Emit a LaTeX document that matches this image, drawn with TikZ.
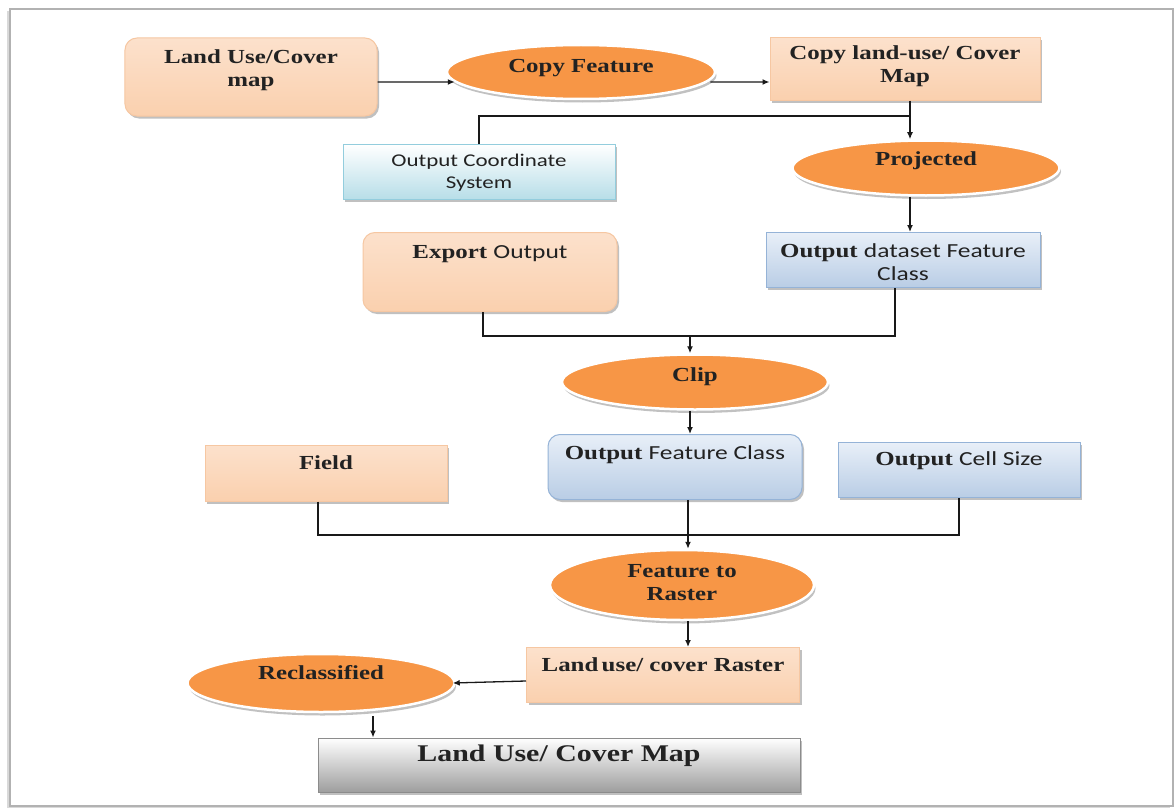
\documentclass[tikz,border=0pt]{standalone}
\usepackage{fontspec}
\setmainfont{Liberation Serif}[FakeStretch=1.25]
\setsansfont{Carlito}[FakeStretch=1.28]
\usetikzlibrary{shapes.geometric,shadows,arrows.meta}

\definecolor{orfill}{HTML}{F79646}
\definecolor{peachT}{HTML}{FCE1CC}
\definecolor{peachM}{HTML}{FEF3EA}
\definecolor{peachB}{HTML}{FAD0AE}
\definecolor{peachE}{HTML}{F6C7A2}
\definecolor{cyanB}{HTML}{B7DEE8}
\definecolor{cyanE}{HTML}{93CDDD}
\definecolor{bluT}{HTML}{E8EFF8}
\definecolor{bluB}{HTML}{B9CDE5}
\definecolor{bluE}{HTML}{95B3D7}
\definecolor{grayB}{HTML}{9E9E9E}
\definecolor{ink}{HTML}{222222}

\tikzset{
  boxshadow/.style={drop shadow={shadow xshift=2bp, shadow yshift=-2.5bp, opacity=0.35, fill=black!70}},
  pbox/.style={draw=peachE, line width=1bp, top color=peachT, middle color=peachM,
               bottom color=peachB, inner sep=0pt, boxshadow},
  cbox/.style={draw=cyanE, line width=1bp, top color=white, bottom color=cyanB,
               inner sep=0pt, boxshadow},
  bbox/.style={draw=bluE, line width=1bp, top color=bluT, bottom color=bluB,
               inner sep=0pt, boxshadow},
  gbox/.style={draw=black!45, line width=1bp, top color=white, bottom color=grayB,
               inner sep=0pt, boxshadow},
  oval/.style={ellipse, fill=orfill, draw=white, line width=2.5bp, inner sep=0pt,
               drop shadow={shadow xshift=1.5bp, shadow yshift=-3.5bp, opacity=0.4, fill=black!60}},
  serif/.style={font=\bfseries\fontsize{20}{23}\selectfont, text=ink, align=center, inner sep=0pt},
  sans/.style={font=\sffamily\fontsize{18}{22}\selectfont, text=ink, align=center, inner sep=0pt},
  conn/.style={draw=black!90, line width=1.3bp},
  arr/.style={conn, -{Latex[length=7bp,width=6bp]}},
}

\begin{document}
\begin{tikzpicture}[x=1bp,y=-1bp]
\useasboundingbox (0,0) rectangle (1176,809);

% page frame
\path[fill=white, draw=black!30, line width=1.2bp,
      drop shadow={shadow xshift=-3bp, shadow yshift=-2bp, opacity=0.3}]
  (10,9) rectangle (1173,806);

% ---- boxes and ovals ----
\node[pbox, rounded corners=12bp, minimum width=252bp, minimum height=78bp] (lu) at (251,77) {};
\node[serif] (lut) at (251,70) {Land Use/Cover\\map};

\node[oval, minimum width=268bp, minimum height=54bp] (cf) at (581,72) {};
\node[serif] (cft) at (581,68) {Copy Feature};

\node[pbox, minimum width=270bp, minimum height=62bp] (cl) at (905,69) {};
\node[serif] (clt) at (905,66) {Copy land-use/ Cover\\Map};

\node[cbox, minimum width=272bp, minimum height=55bp] (ocs) at (479,172) {};
\node[sans] (ocst) at (479,173) {Output Coordinate\\System};

\node[oval, minimum width=267bp, minimum height=55bp] (proj) at (926,168) {};
\node[serif] (projt) at (926,161) {Projected};

\node[bbox, minimum width=274bp, minimum height=55bp] (odfc) at (903,260) {};
\node[serif] (odfct) at (903,262) {Output {\sffamily\mdseries dataset Feature}\\{\sffamily\mdseries Class}};

\node[pbox, rounded corners=12bp, minimum width=254bp, minimum height=79bp] (eo) at (490,272) {};
\node[serif] (eot) at (490,254) {Export {\sffamily\mdseries Output}};

\node[oval, minimum width=266bp, minimum height=55bp] (clip) at (695,382) {};
\node[serif] (clipt) at (695,377) {Clip};

\node[bbox, rounded corners=12bp, minimum width=254bp, minimum height=65bp] (ofc) at (675,467) {};
\node[serif] (ofct) at (675,455) {Output {\sffamily\mdseries Feature Class}};

\node[pbox, minimum width=242bp, minimum height=56bp] (field) at (326,473) {};
\node[serif] (fieldt) at (326,463) {Field};

\node[bbox, minimum width=242bp, minimum height=55bp] (ocz) at (959,470) {};
\node[serif] (oczt) at (959,461) {Output {\sffamily\mdseries Cell Size}};

\node[oval, minimum width=264bp, minimum height=70bp] (ftr) at (682,585) {};
\node[serif] (ftrt) at (682,583) {Feature to\\Raster};

\node[pbox, minimum width=273bp, minimum height=55bp] (lucr) at (663,675) {};
\node[serif] (lucrt) at (663,665) {Land\,use/ cover Raster};

\node[oval, minimum width=267bp, minimum height=58bp] (recl) at (321,683) {};
\node[serif] (reclt) at (321,673) {Reclassified};

\node[gbox, minimum width=482bp, minimum height=54bp] (final) at (559,765) {};
\node[serif, font=\bfseries\fontsize{24}{28}\selectfont] (finalt) at (559,756) {Land Use/ Cover Map};

% ---- junction points ----
\coordinate (j1) at (910,116);
\coordinate (j2) at (690,336);
\coordinate (j3) at (688,535);

% ---- connectors ----
\draw[arr] ([yshift=-5bp]lu.east) -- ([xshift=9bp,yshift=-10bp]cf.west);
\draw[arr] ([xshift=-6bp,yshift=-10bp]cf.east) -- ([yshift=-13bp]cl.west);

\draw[arr] ([xshift=5bp]cl.south) -- ([xshift=5bp]cl.south |- proj.north);
\draw[conn] (ocs.north) |- (j1);

\draw[arr] ([xshift=-16bp]proj.south) -- ([xshift=-16bp]proj.south |- odfc.north);

\draw[conn] ([xshift=-7bp]eo.south) |- (j2) -| ([xshift=-8bp]odfc.south);
\draw[arr] (j2) -- (j2 |- clip.north);

\draw[arr] ([xshift=-5bp]clip.south) -- ([xshift=-5bp]clip.south |- ofc.north);

\draw[conn] ([xshift=-8bp]field.south) |- (j3) -| (ocz.south);
\draw[conn] (ofc.south -| j3) -- (j3);
\draw[arr] (j3) -- (j3 |- ftr.north);

\draw[arr] ([xshift=6bp]ftr.south) -- ([xshift=6bp]ftr.south |- lucr.north);

\draw[arr] ([yshift=-6bp]lucr.west) -- ([xshift=-3bp]recl.east);

\draw[arr] ([xshift=52bp,yshift=-3bp]recl.south) -- ([xshift=52bp]recl.south |- final.north);
\end{tikzpicture}
\end{document}
